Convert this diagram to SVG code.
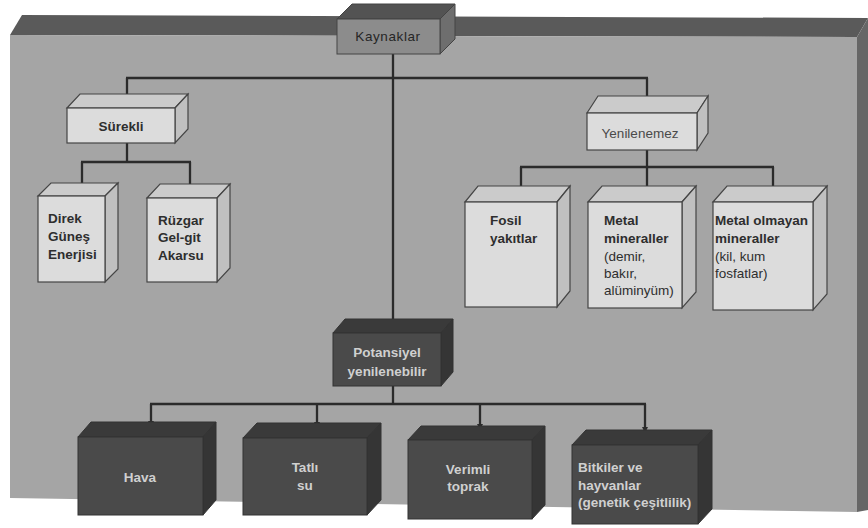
<svg xmlns="http://www.w3.org/2000/svg" width="868" height="528" viewBox="0 0 868 528">
  <defs>
    <style>
      .panel-front { fill: #a5a5a5; }
      .panel-top { fill: #5a5a5a; }
      .panel-side { fill: #666666; }
      .light .front { fill: #dcdcdc; stroke: #454545; stroke-width: 1.2; }
      .light .top { fill: #cbcbcb; stroke: #454545; stroke-width: 1.2; }
      .light .side { fill: #c0c0c0; stroke: #454545; stroke-width: 1.2; }
      .dark .front { fill: #4a4a4a; stroke: #333; stroke-width: 1; }
      .dark .top { fill: #3a3a3a; stroke: #333; stroke-width: 1; }
      .dark .side { fill: #353535; stroke: #333; stroke-width: 1; }
      .root .front { fill: #8c8c8c; stroke: #444; stroke-width: 1; }
      .root .top { fill: #535353; stroke: #444; stroke-width: 1; }
      .root .side { fill: #6e6e6e; stroke: #444; stroke-width: 1; }
      text { font-family: "Liberation Sans", Arial, sans-serif; font-size: 13.5px; }
      .lbl { font-weight: bold; fill: #2e2e2e; }
      .lbl-n { fill: #4a4a4a; }
      .lbl-l { font-weight: bold; fill: #d0d0d0; }
      .sub { font-weight: normal; }
      .conn { stroke: #2b2b2b; stroke-width: 2.3; fill: none; }
      .arr { marker-end: url(#ah); }
    </style>
    <marker id="ah" viewBox="0 0 10 10" refX="10" refY="5" markerWidth="8" markerHeight="6" markerUnits="userSpaceOnUse" orient="auto">
      <path d="M0,0 L10,5 L0,10 z" fill="#2b2b2b"/>
    </marker>
  </defs>

  <rect width="868" height="528" fill="#ffffff"/>

  <!-- backing board -->
  <g id="board">
    <polygon class="panel-top" points="22,15 868,18 857,37 10,35"/>
    <polygon class="panel-side" points="857,37 868,18 868,510 857,512"/>
    <polygon class="panel-front" points="10,35 857,37 857,512 10,498"/>
  </g>

  <!-- connectors -->
  <g id="connectors">
    <line class="conn" x1="393" y1="54" x2="393" y2="319"/>
    <line class="conn" x1="126" y1="78" x2="648" y2="78"/>
    <line class="conn arr" x1="127" y1="78" x2="127" y2="102"/>
    <line class="conn arr" x1="647" y1="78" x2="647" y2="106"/>

    <line class="conn" x1="127" y1="143" x2="127" y2="162"/>
    <line class="conn" x1="81" y1="162" x2="191" y2="162"/>
    <line class="conn arr" x1="82" y1="162" x2="82" y2="189"/>
    <line class="conn arr" x1="190" y1="162" x2="190" y2="190"/>

    <line class="conn" x1="647" y1="150" x2="647" y2="167"/>
    <line class="conn" x1="520" y1="167" x2="774" y2="167"/>
    <line class="conn arr" x1="521" y1="167" x2="521" y2="194"/>
    <line class="conn arr" x1="647" y1="167" x2="647" y2="194"/>
    <line class="conn arr" x1="773" y1="167" x2="773" y2="194"/>

    <line class="conn" x1="393" y1="386" x2="393" y2="404"/>
    <line class="conn" x1="150" y1="404" x2="646" y2="404"/>
    <line class="conn arr" x1="151" y1="404" x2="151" y2="427"/>
    <line class="conn arr" x1="317" y1="404" x2="317" y2="428"/>
    <line class="conn arr" x1="480" y1="404" x2="480" y2="430"/>
    <line class="conn arr" x1="645" y1="404" x2="645" y2="433"/>
  </g>

  <!-- Kaynaklar -->
  <g id="kaynaklar" class="root">
    <polygon class="top" points="337,19 352,4 455,4 440,19"/>
    <polygon class="side" points="440,19 455,4 455,39 440,54"/>
    <rect class="front" x="337" y="19" width="103" height="35"/>
    <text x="388" y="41" text-anchor="middle" font-size="12" letter-spacing="0.6" fill="#262626">Kaynaklar</text>
  </g>

  <!-- Sürekli -->
  <g id="surekli" class="light">
    <polygon class="top" points="67,108 80,94 188,94 175,108"/>
    <polygon class="side" points="175,108 188,94 188,129 175,143"/>
    <rect class="front" x="67" y="108" width="108" height="35"/>
    <text class="lbl" x="121" y="131" text-anchor="middle">Sürekli</text>
  </g>

  <!-- Direk Güneş Enerjisi -->
  <g id="direk" class="light">
    <polygon class="top" points="38,196 51,183 118,183 105,196"/>
    <polygon class="side" points="105,196 118,183 118,269 105,282"/>
    <rect class="front" x="38" y="196" width="67" height="86"/>
    <text class="lbl" x="48" y="223">Direk</text>
    <text class="lbl" x="48" y="241">Güneş</text>
    <text class="lbl" x="48" y="259">Enerjisi</text>
  </g>

  <!-- Rüzgar Gel-git Akarsu -->
  <g id="ruzgar" class="light">
    <polygon class="top" points="147,198 160,184 230,184 217,198"/>
    <polygon class="side" points="217,198 230,184 230,268 217,282"/>
    <rect class="front" x="147" y="198" width="70" height="84"/>
    <text class="lbl" x="158" y="225">Rüzgar</text>
    <text class="lbl" x="158" y="242">Gel-git</text>
    <text class="lbl" x="158" y="260">Akarsu</text>
  </g>

  <!-- Yenilenemez -->
  <g id="yenilenemez" class="light">
    <polygon class="top" points="587,113 598,96 708,96 697,113"/>
    <polygon class="side" points="697,113 708,96 708,133 697,150"/>
    <rect class="front" x="587" y="113" width="110" height="37"/>
    <text class="lbl-n" x="640" y="138" text-anchor="middle" font-size="13">Yenilenemez</text>
  </g>

  <!-- Fosil yakıtlar -->
  <g id="fosil" class="light">
    <polygon class="top" points="465,202 478,186 570,186 557,202"/>
    <polygon class="side" points="557,202 570,186 570,291 557,307"/>
    <rect class="front" x="465" y="202" width="92" height="105"/>
    <text class="lbl" x="490" y="225">Fosil</text>
    <text class="lbl" x="490" y="243">yakıtlar</text>
  </g>

  <!-- Metal mineraller -->
  <g id="metal" class="light">
    <polygon class="top" points="588,202 602,186 696,186 682,202"/>
    <polygon class="side" points="682,202 696,186 696,292 682,308"/>
    <rect class="front" x="588" y="202" width="94" height="106"/>
    <text class="lbl" x="604" y="225">Metal</text>
    <text class="lbl" x="604" y="243">mineraller</text>
    <text class="lbl sub" x="604" y="261">(demir,</text>
    <text class="lbl sub" x="604" y="278">bakır,</text>
    <text class="lbl sub" x="604" y="295">alüminyüm)</text>
  </g>

  <!-- Metal olmayan mineraller -->
  <g id="metal-olmayan" class="light">
    <polygon class="top" points="713,202 727,186 827,186 813,202"/>
    <polygon class="side" points="813,202 827,186 827,294 813,310"/>
    <rect class="front" x="713" y="202" width="100" height="108"/>
    <text class="lbl" x="715" y="225" font-size="14">Metal olmayan</text>
    <text class="lbl" x="715" y="243">mineraller</text>
    <text class="lbl sub" x="715" y="261">(kil, kum</text>
    <text class="lbl sub" x="715" y="278">fosfatlar)</text>
  </g>

  <!-- Potansiyel yenilenebilir -->
  <g id="potansiyel" class="dark">
    <polygon class="top" points="333,333 345,319 453,319 441,333"/>
    <polygon class="side" points="441,333 453,319 453,372 441,386"/>
    <rect class="front" x="333" y="333" width="108" height="53"/>
    <text class="lbl-l" x="387" y="357" text-anchor="middle">Potansiyel</text>
    <text class="lbl-l" x="387" y="376" text-anchor="middle">yenilenebilir</text>
  </g>

  <!-- Hava -->
  <g id="hava" class="dark">
    <polygon class="top" points="78,437 91,422 216,422 203,437"/>
    <polygon class="side" points="203,437 216,422 216,500 203,515"/>
    <rect class="front" x="78" y="437" width="125" height="78"/>
    <text class="lbl-l" x="140" y="482" text-anchor="middle">Hava</text>
  </g>

  <!-- Tatlı su -->
  <g id="tatli-su" class="dark">
    <polygon class="top" points="243,438 257,423 381,423 367,438"/>
    <polygon class="side" points="367,438 381,423 381,500 367,515"/>
    <rect class="front" x="243" y="438" width="124" height="77"/>
    <text class="lbl-l" x="305" y="472" text-anchor="middle">Tatlı</text>
    <text class="lbl-l" x="305" y="490" text-anchor="middle">su</text>
  </g>

  <!-- Verimli toprak -->
  <g id="verimli-toprak" class="dark">
    <polygon class="top" points="408,440 421,426 545,426 532,440"/>
    <polygon class="side" points="532,440 545,426 545,505 532,519"/>
    <rect class="front" x="408" y="440" width="124" height="79"/>
    <text class="lbl-l" x="468" y="474" text-anchor="middle">Verimli</text>
    <text class="lbl-l" x="468" y="491" text-anchor="middle">toprak</text>
  </g>

  <!-- Bitkiler ve hayvanlar -->
  <g id="bitkiler" class="dark">
    <polygon class="top" points="572,445 586,430 712,430 698,445"/>
    <polygon class="side" points="698,445 712,430 712,509 698,524"/>
    <rect class="front" x="572" y="445" width="126" height="79"/>
    <text class="lbl-l" x="578" y="472">Bitkiler ve</text>
    <text class="lbl-l" x="578" y="490">hayvanlar</text>
    <text class="lbl-l" x="578" y="507" font-size="13">(genetik çeşitlilik)</text>
  </g>
</svg>
